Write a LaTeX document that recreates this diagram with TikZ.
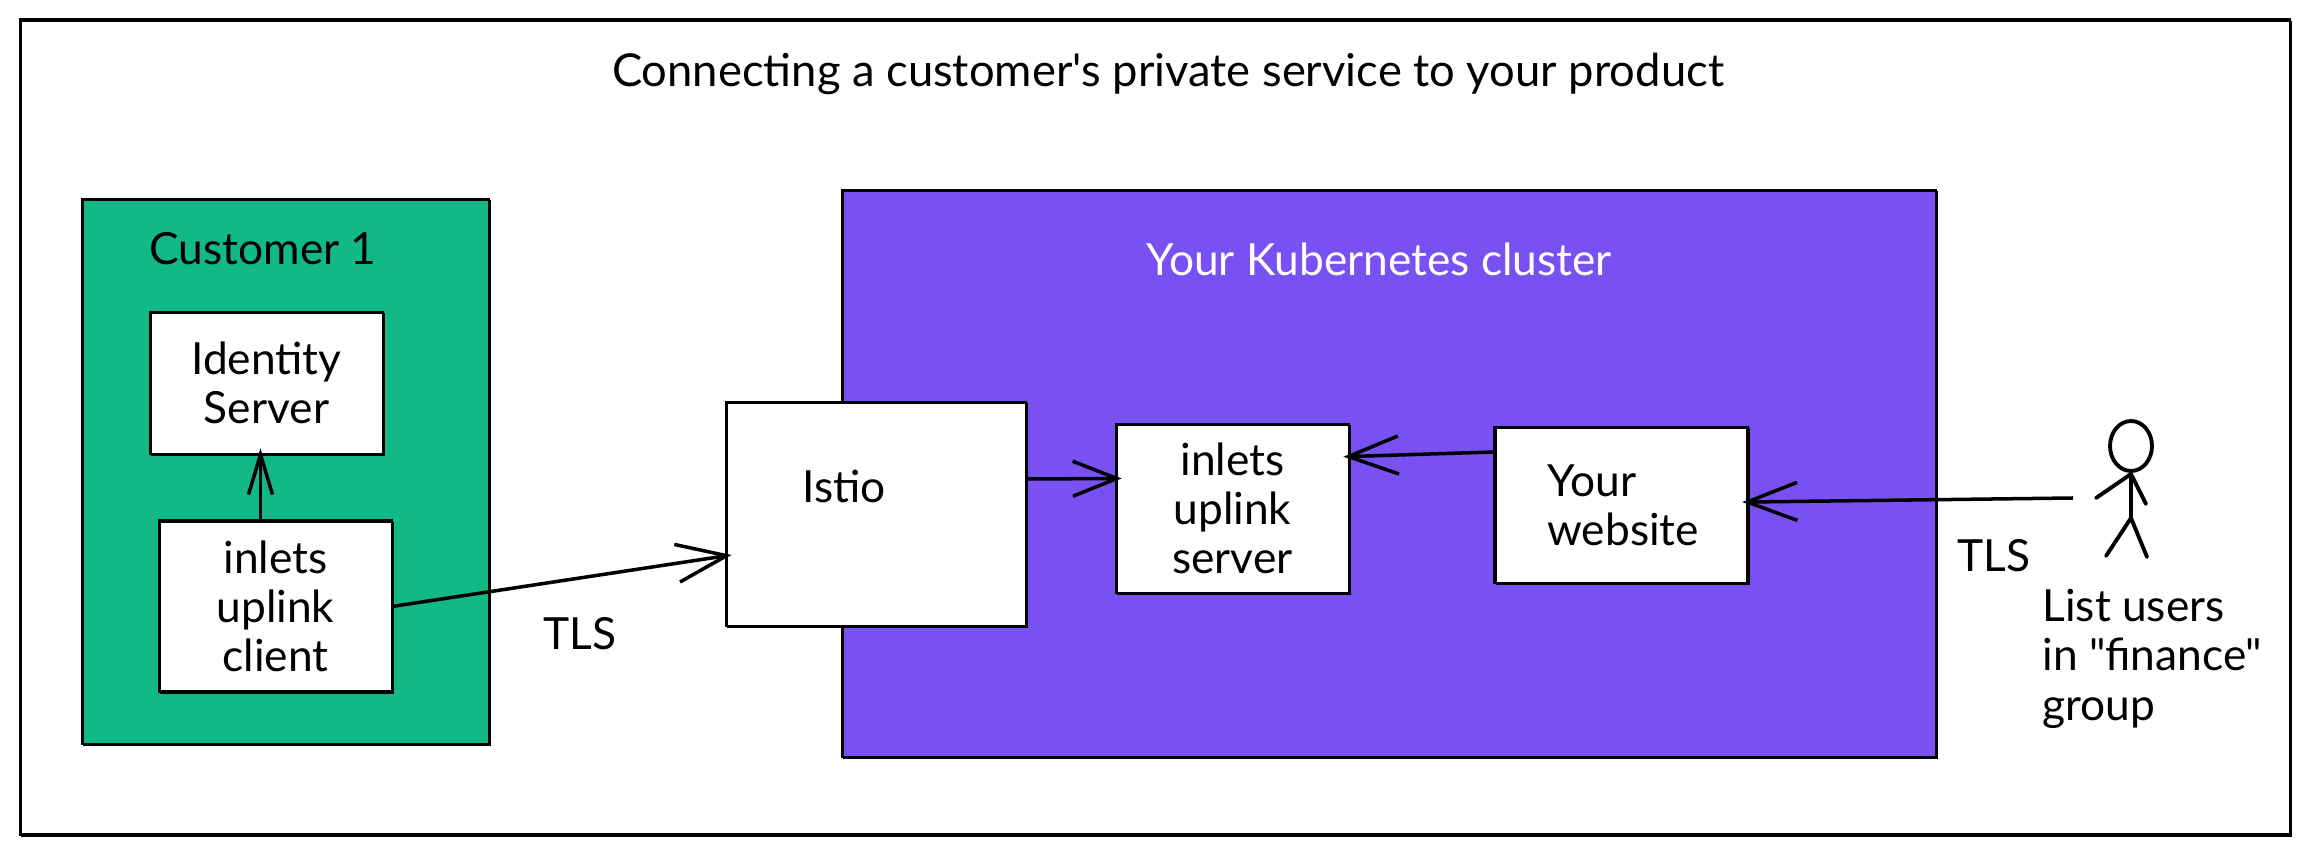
\documentclass[tikz,border=0pt]{standalone}
\usepackage{fontspec}
\setmainfont{Lato}[Ligatures=TeXOff]
\usetikzlibrary{positioning,arrows.meta,shapes.geometric}
\definecolor{custgreen}{HTML}{12B886}
\definecolor{clusterpurple}{HTML}{7950F2}
\tikzset{
  sketch/.style={draw=black, line width=0.8pt, postaction={draw, line width=0.4pt, transform canvas={xshift=0.5pt,yshift=-0.5pt}}},
  box/.style={rectangle, sketch, fill=white, align=center, inner sep=0pt, font=\fontsize{12.6}{14}\selectfont},
  area/.style={rectangle, sketch, inner sep=0pt},
  lbl/.style={font=\fontsize{12.6}{14}\selectfont, align=left},
  arr/.style={-{Straight Barb[length=5mm, width=3.8mm]}, line width=1pt, shorten >=-0.7mm},
  arrmid/.style={-{Straight Barb[length=4.4mm, width=3.5mm]}, line width=1pt, shorten >=-0.7mm},
  arrsmall/.style={-{Straight Barb[length=4mm, width=2.4mm]}, line width=1pt, shorten >=-0.7mm},
  limb/.style={line width=1.1pt, line cap=round}
}
\begin{document}
\begin{tikzpicture}
\useasboundingbox (0,0) rectangle (23.09,8.54);
\node[area, fill=white, minimum width=22.7cm, minimum height=8.15cm] (frame) at (11.55,4.27) {};
\node[lbl, font=\fontsize{12.9}{14}\selectfont] (title) at (11.68,7.80) {Connecting a customer's private service to your product};
% customer side
\node[area, fill=custgreen, minimum width=4.07cm, minimum height=5.45cm] (customer) at (2.855,3.825) {};
\node[lbl] (customerlbl) at (2.63,6.05) {Customer 1};
\node[box, minimum width=2.33cm, minimum height=1.42cm] (identity) at (2.665,4.71) {Identity\\Server};
\node[box, minimum width=2.33cm, minimum height=1.71cm, below=0.64cm of identity, xshift=0.09cm] (client) {inlets\\uplink\\client};
% cluster side
\node[area, fill=clusterpurple, minimum width=10.94cm, minimum height=5.67cm] (cluster) at (13.89,3.805) {};
\node[lbl, text=white] (clusterlbl) at (13.79,5.95) {Your Kubernetes cluster};
\node[box, minimum width=3cm, minimum height=2.24cm] (istio) at (8.76,3.40) {};
\node[lbl] (istiolbl) at (8.44,3.68) {Istio};
\node[box, minimum width=2.33cm, minimum height=1.69cm] (server) at (12.325,3.455) {inlets\\uplink\\server};
\node[box, minimum width=2.53cm, minimum height=1.56cm, right=1.43cm of server, yshift=0.035cm] (website) {};
\node[lbl, anchor=west] (websitelbl) at (15.35,3.49) {Your\\website};
% user
\node[ellipse, draw, line width=1.1pt, minimum width=0.42cm, minimum height=0.5cm, inner sep=0pt] (head) at (21.31,4.08) {};
\coordinate (hip) at (21.31,3.36);
\coordinate (shoulder) at (21.31,3.80);
\coordinate (user) at (20.73,3.56);
\draw[limb] (head.south) -- (hip);
\draw[limb] (20.96,3.56) -- (shoulder) -- (21.46,3.50);
\draw[limb] (21.06,2.98) -- (hip) -- (21.47,2.97);
\node[lbl] (tlsa) at (5.80,2.20) {TLS};
\node[lbl] (tlsb) at (19.94,2.98) {TLS};
\node[lbl, anchor=north west] (userlbl) at (20.30,2.77) {List users\\in "finance"\\group};
% connectors
\draw[arrsmall] ([xshift=-0.15cm]client.north) -- ([xshift=-0.06cm]identity.south);
\draw[arr] (client.east) -- ([yshift=-0.42cm]istio.west);
\draw[arrmid] ([yshift=0.35cm]istio.east) -- ([yshift=0.30cm]server.west);
\draw[arr] ([yshift=0.53cm]website.west) -- ([yshift=0.52cm]server.east);
\draw[arr] (user) -- ([yshift=0.03cm]website.east);
\end{tikzpicture}
\end{document}
